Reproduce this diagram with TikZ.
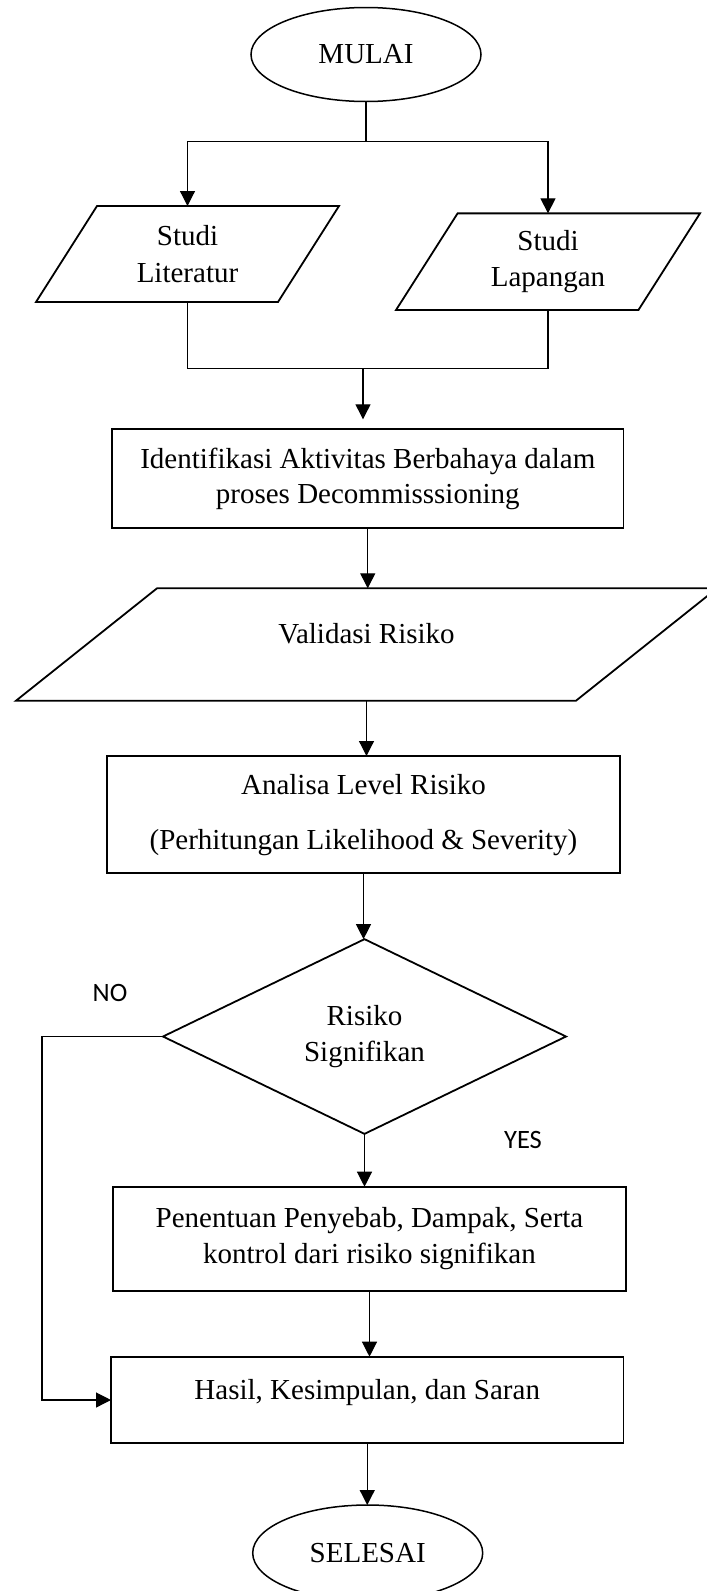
\documentclass[tikz,border=0pt]{standalone}
\usepackage{fontspec}
\setmainfont{Liberation Serif}
\newfontfamily\calibrifont{Carlito}
\usetikzlibrary{shapes.geometric,arrows.meta}
\begin{document}
\begin{tikzpicture}[x=1pt,y=-1pt,
  txt/.style={inner sep=0pt, outer sep=0pt, align=center, font=\fontsize{29pt}{36.5pt}\selectfont},
  box/.style={txt, draw, line width=1.8pt},
  term/.style={box, ellipse, line width=1.5pt},
  plain/.style={txt},
  pline/.style={line width=1.8pt, line join=miter},
  conn/.style={line width=1.2pt},
  arr/.style={conn, -{Triangle[length=15pt,width=15pt]}},
  lbl/.style={font=\calibrifont\fontsize{26.5pt}{30pt}\selectfont, inner sep=0pt}
]
\useasboundingbox (0,0) rectangle (707,1591);
\clip (0,0) rectangle (707,1591);

% nodes
\node[term, minimum width=230pt, minimum height=94pt] (M) at (366,54.5) {MULAI};
\node[plain, minimum width=303pt, minimum height=96pt] (L) at (187.5,254) {Studi\\Literatur};
\node[plain, minimum width=304pt, minimum height=96.7pt] (R) at (548,261.7) {Studi\\Lapangan};
\node[box, font=\fontsize{29pt}{35pt}\selectfont, minimum width=511.5pt, minimum height=98.4pt] (I) at (367.75,478.5) {Identifikasi Aktivitas Berbahaya dalam\\proses Decommisssioning};
\node[plain, minimum width=701pt, minimum height=112.4pt, text height=20pt, text depth=22pt] (V) at (366.5,644.5) {Validasi Risiko};
\node[box, font=\fontsize{29pt}{55pt}\selectfont, minimum width=513pt, minimum height=117.3pt] (A) at (363.5,814.65) {Analisa Level Risiko\\(Perhitungan Likelihood \& Severity)};
\node[box, diamond, minimum width=403pt, minimum height=194.7pt] (D) at (364.5,1036.5) {Risiko\\Signifikan};
\node[box, minimum width=513pt, minimum height=104pt] (P) at (369.5,1238.7) {Penentuan Penyebab, Dampak, Serta\\kontrol dari risiko signifikan};
\node[box, minimum width=512.5pt, minimum height=86.6pt, text height=20pt, text depth=21pt] (H) at (367.25,1400) {Hasil, Kesimpulan, dan Saran};
\node[term, minimum width=230pt, minimum height=96pt] (S) at (367.7,1553) {SELESAI};

\node[lbl] (no) at (110,993) {NO};
\node[lbl] (yes) at (523,1140) {YES};

% parallelogram outlines
\draw[pline] ([xshift=61pt]L.north west) -- (L.north east) -- ([xshift=-61pt]L.south east) -- (L.south west) -- cycle;
\draw[pline] ([xshift=61.6pt]R.north west) -- (R.north east) -- ([xshift=-61.6pt]R.south east) -- (R.south west) -- cycle;
\draw[pline] ([xshift=141pt]V.north west) -- (V.north east) -- ([xshift=-141pt]V.south east) -- (V.south west) -- cycle;

% connectors
\coordinate (s1) at (366,141.7);
\draw[conn] (M.south) -- (s1);
\draw[arr] (s1) -| (L.north);
\draw[arr] (s1) -| (R.north);
\coordinate (j1) at (363,368.3);
\draw[conn] (L.south) |- (j1);
\draw[conn] (R.south) |- (j1);
\draw[arr, shorten >=10pt] (j1) -- (j1 |- I.north);
\draw[arr] (I.south) -- (I.south |- V.north);
\draw[arr] (V.south) -- (V.south |- A.north);
\draw[arr] (A.south) -- (A.south |- D.north);
\draw[arr] (D.south) -- (D.south |- P.north);
\draw[arr] (P.south) -- (P.south |- H.north);
\draw[arr] (H.south) -- (H.south |- S.north);
\coordinate (nx) at (42,1036.5);
\draw[arr] (D.west) -- (nx) |- (H.west);
\end{tikzpicture}
\end{document}
